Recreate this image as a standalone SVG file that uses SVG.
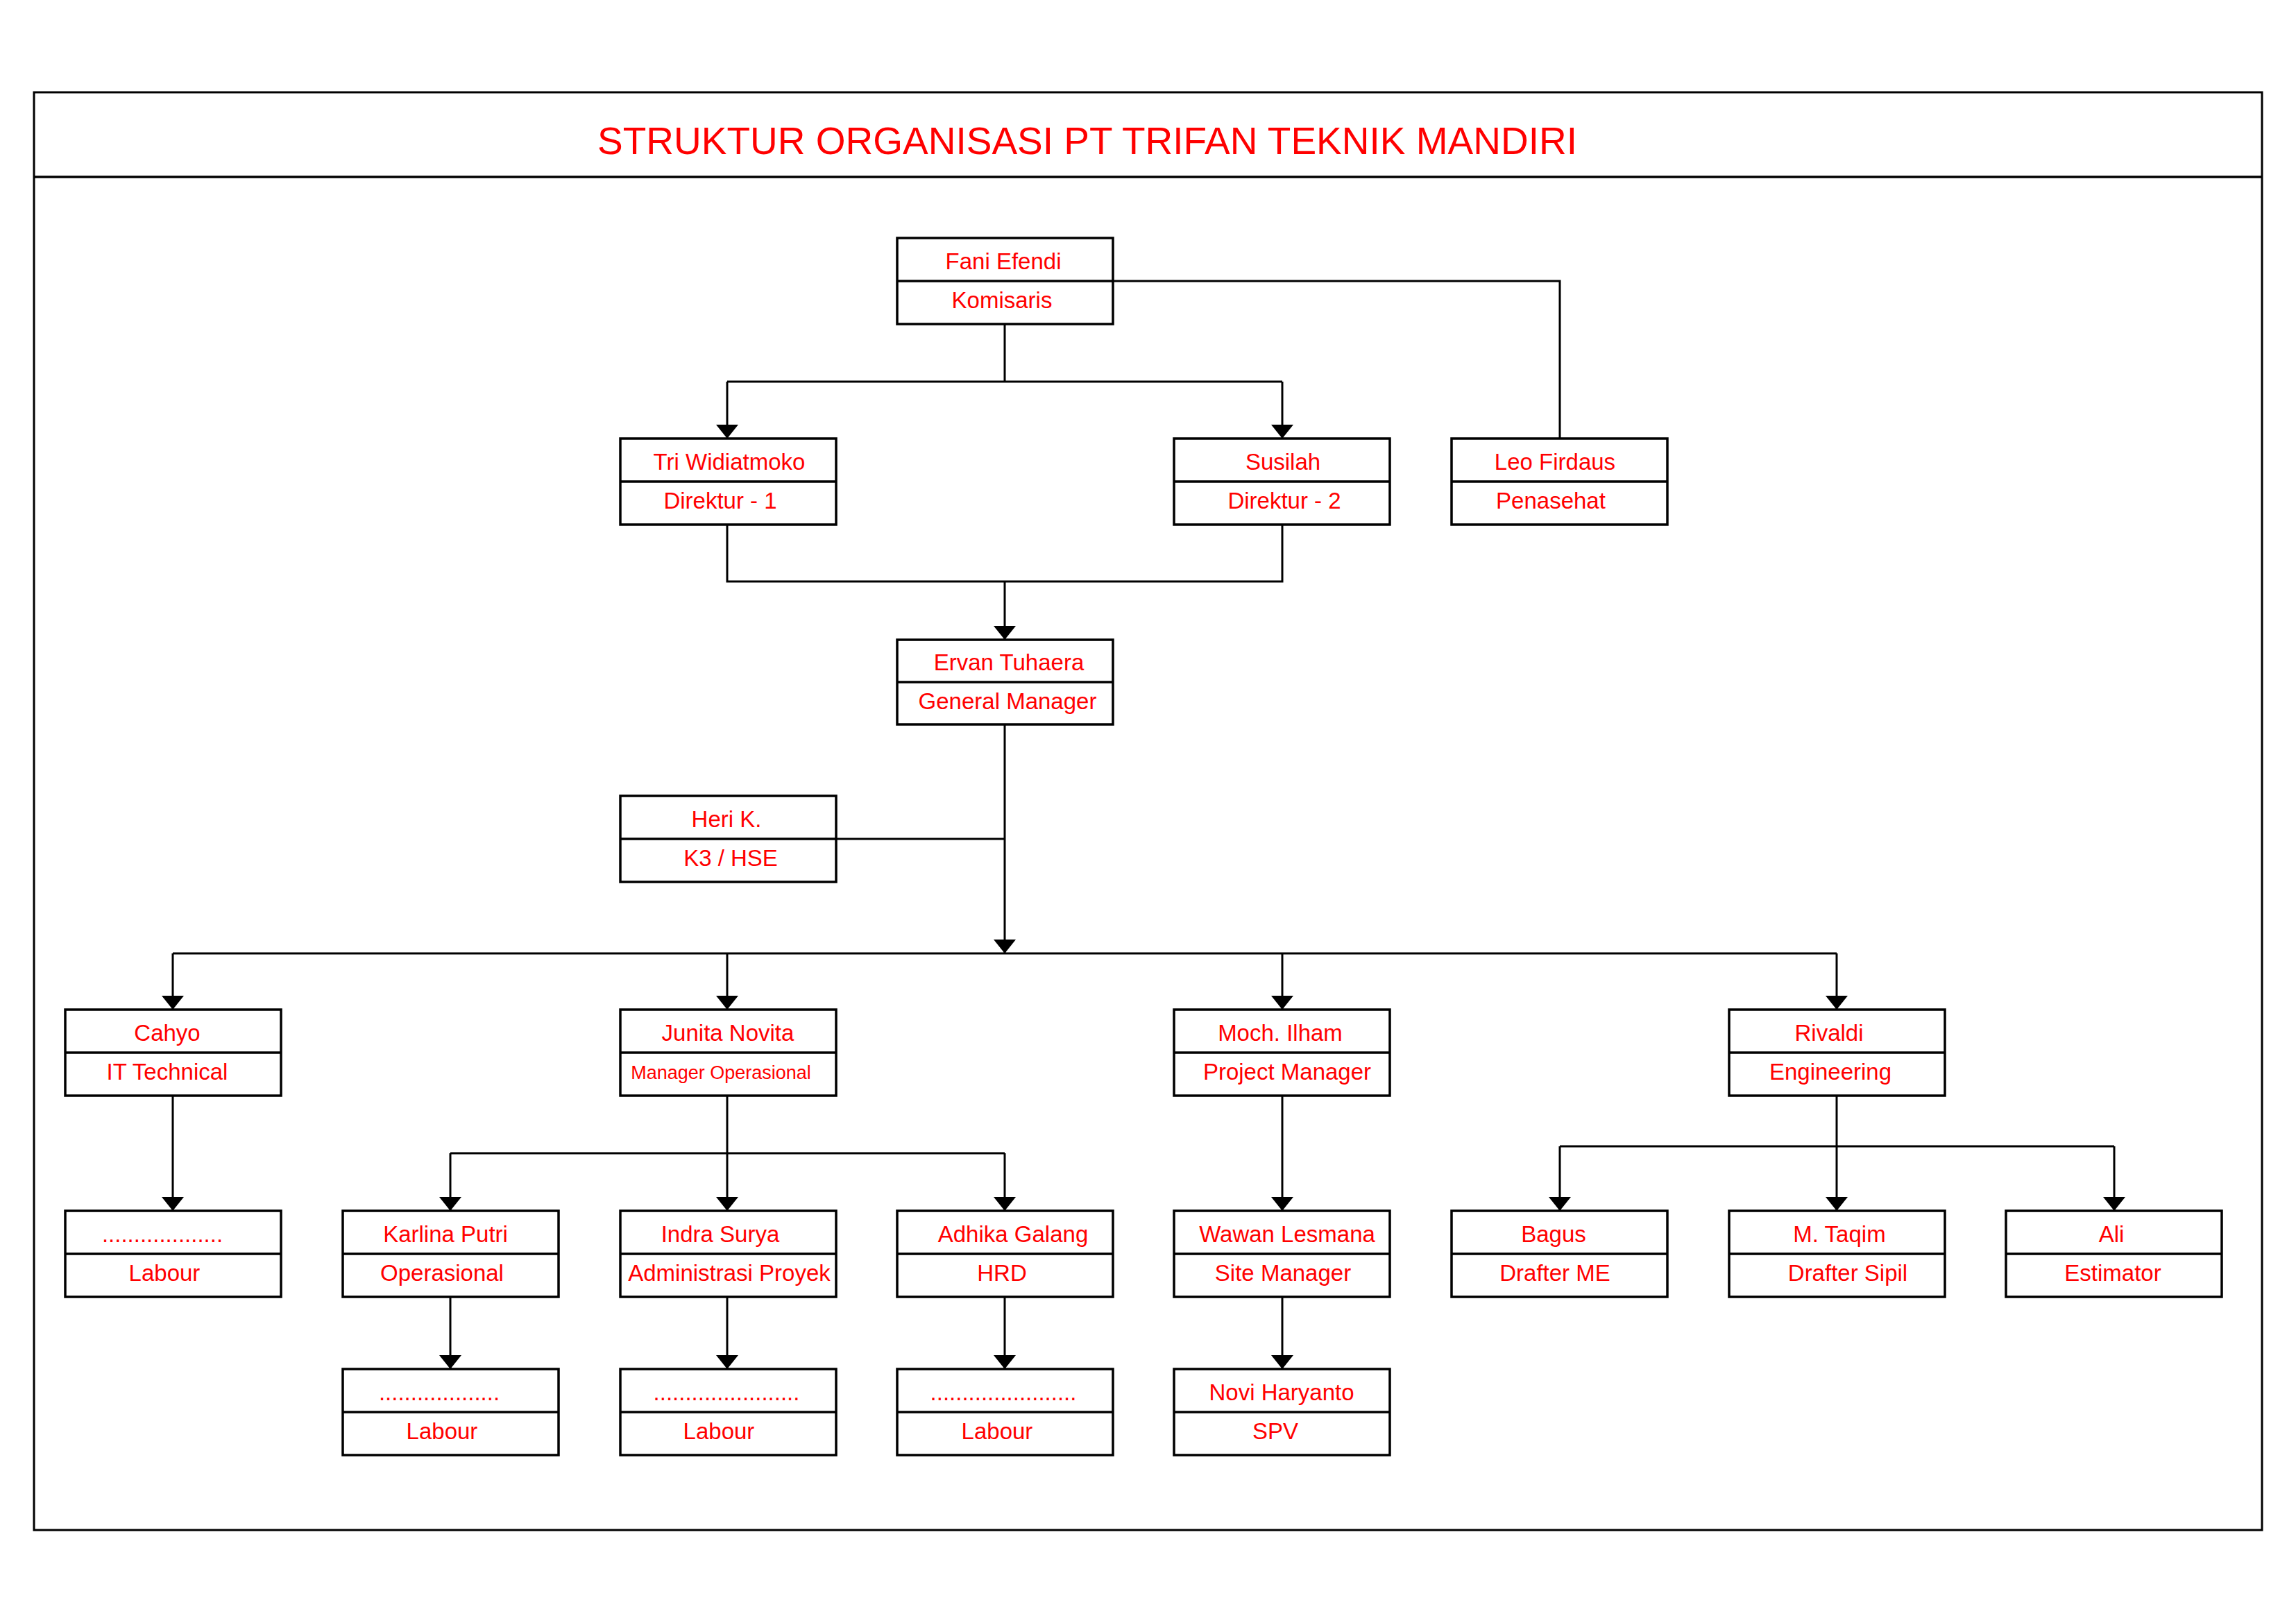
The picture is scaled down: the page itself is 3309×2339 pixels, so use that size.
<svg xmlns="http://www.w3.org/2000/svg" width="3309" height="2339" viewBox="0 0 3309 2339">
<style>
.frame{fill:none;stroke:#000;stroke-width:3}
.box{fill:#fff;stroke:#000;stroke-width:3.5}
.div{stroke:#000;stroke-width:3.5}
.c{fill:none;stroke:#000;stroke-width:3}
.a{marker-end:url(#arr)}
.t{font-family:"Liberation Sans",Arial,sans-serif;font-size:33px;fill:#ff0000;text-anchor:middle}
.s{font-size:27px}
.title{font-family:"Liberation Sans",Arial,sans-serif;font-size:55px;fill:#ff0000;text-anchor:middle}
</style>
<defs>
<marker id="arr" markerUnits="userSpaceOnUse" markerWidth="20" markerHeight="32" viewBox="0 0 20 32" refX="20" refY="16" orient="auto">
<path d="M0,0 L20,16 L0,32 Z" fill="#000"/>
</marker>
</defs>
<rect width="3309" height="2339" fill="#fff"/>
<g id="frame">
<rect class="frame" x="49" y="133" width="3211" height="2072"/>
<line class="div" x1="49" y1="255" x2="3260" y2="255"/>
<text class="title" x="1567" y="222">STRUKTUR ORGANISASI PT TRIFAN TEKNIK MANDIRI</text>
</g>
<g id="connectors">
<path class="c" d="M1448,467 V550 M1048,550 H1848 M1048,756 V838 H1848 V756 M1204,1209 H1448 M249,1374 H2647 M649,1662 H1448 M2248,1652 H3047"/>
<path class="c" d="M1604,405 H2248 V632"/>
<path class="c a" d="M1048,550 V632"/>
<path class="c a" d="M1848,550 V632"/>
<path class="c a" d="M1448,838 V922"/>
<path class="c a" d="M1448,1044 V1374"/>
<path class="c a" d="M249,1374 V1455"/>
<path class="c a" d="M1048,1374 V1455"/>
<path class="c a" d="M1848,1374 V1455"/>
<path class="c a" d="M2647,1374 V1455"/>
<path class="c a" d="M249,1579 V1745"/>
<path class="c a" d="M1048,1579 V1745"/>
<path class="c a" d="M649,1662 V1745"/>
<path class="c a" d="M1448,1662 V1745"/>
<path class="c a" d="M1848,1579 V1745"/>
<path class="c a" d="M2647,1579 V1745"/>
<path class="c a" d="M2248,1652 V1745"/>
<path class="c a" d="M3047,1652 V1745"/>
<path class="c a" d="M649,1869 V1973"/>
<path class="c a" d="M1048,1869 V1973"/>
<path class="c a" d="M1448,1869 V1973"/>
<path class="c a" d="M1848,1869 V1973"/>
</g>
<g id="n-fani"><rect class="box" x="1293" y="343" width="311" height="124"/><line class="div" x1="1293" y1="405" x2="1604" y2="405"/><text class="t" x="1446" y="388">Fani Efendi</text><text class="t" x="1444" y="444">Komisaris</text></g>
<g id="n-tri"><rect class="box" x="894" y="632" width="311" height="124"/><line class="div" x1="894" y1="694" x2="1205" y2="694"/><text class="t" x="1051" y="677">Tri Widiatmoko</text><text class="t" x="1038" y="733">Direktur - 1</text></g>
<g id="n-susilah"><rect class="box" x="1692" y="632" width="311" height="124"/><line class="div" x1="1692" y1="694" x2="2003" y2="694"/><text class="t" x="1849" y="677">Susilah</text><text class="t" x="1851" y="733">Direktur - 2</text></g>
<g id="n-leo"><rect class="box" x="2092" y="632" width="311" height="124"/><line class="div" x1="2092" y1="694" x2="2403" y2="694"/><text class="t" x="2241" y="677">Leo Firdaus</text><text class="t" x="2235" y="733">Penasehat</text></g>
<g id="n-ervan"><rect class="box" x="1293" y="922" width="311" height="122"/><line class="div" x1="1293" y1="983" x2="1604" y2="983"/><text class="t" x="1454" y="966">Ervan Tuhaera</text><text class="t" x="1452" y="1022">General Manager</text></g>
<g id="n-heri"><rect class="box" x="894" y="1147" width="311" height="124"/><line class="div" x1="894" y1="1209" x2="1205" y2="1209"/><text class="t" x="1047" y="1192">Heri K.</text><text class="t" x="1053" y="1248">K3 / HSE</text></g>
<g id="n-cahyo"><rect class="box" x="94" y="1455" width="311" height="124"/><line class="div" x1="94" y1="1517" x2="405" y2="1517"/><text class="t" x="241" y="1500">Cahyo</text><text class="t" x="241" y="1556">IT Technical</text></g>
<g id="n-junita"><rect class="box" x="894" y="1455" width="311" height="124"/><line class="div" x1="894" y1="1517" x2="1205" y2="1517"/><text class="t" x="1049" y="1500">Junita Novita</text><text class="t s" x="1039" y="1555">Manager Operasional</text></g>
<g id="n-moch"><rect class="box" x="1692" y="1455" width="311" height="124"/><line class="div" x1="1692" y1="1517" x2="2003" y2="1517"/><text class="t" x="1845" y="1500">Moch. Ilham</text><text class="t" x="1855" y="1556">Project Manager</text></g>
<g id="n-rivaldi"><rect class="box" x="2492" y="1455" width="311" height="124"/><line class="div" x1="2492" y1="1517" x2="2803" y2="1517"/><text class="t" x="2636" y="1500">Rivaldi</text><text class="t" x="2638" y="1556">Engineering</text></g>
<g id="n-labour1"><rect class="box" x="94" y="1745" width="311" height="124"/><line class="div" x1="94" y1="1807" x2="405" y2="1807"/><text class="t" x="234" y="1790">...................</text><text class="t" x="237" y="1846">Labour</text></g>
<g id="n-karlina"><rect class="box" x="494" y="1745" width="311" height="124"/><line class="div" x1="494" y1="1807" x2="805" y2="1807"/><text class="t" x="642" y="1790">Karlina Putri</text><text class="t" x="637" y="1846">Operasional</text></g>
<g id="n-indra"><rect class="box" x="894" y="1745" width="311" height="124"/><line class="div" x1="894" y1="1807" x2="1205" y2="1807"/><text class="t" x="1038" y="1790">Indra Surya</text><text class="t" x="1051" y="1846">Administrasi Proyek</text></g>
<g id="n-adhika"><rect class="box" x="1293" y="1745" width="311" height="124"/><line class="div" x1="1293" y1="1807" x2="1604" y2="1807"/><text class="t" x="1460" y="1790">Adhika Galang</text><text class="t" x="1444" y="1846">HRD</text></g>
<g id="n-wawan"><rect class="box" x="1692" y="1745" width="311" height="124"/><line class="div" x1="1692" y1="1807" x2="2003" y2="1807"/><text class="t" x="1855" y="1790">Wawan Lesmana</text><text class="t" x="1849" y="1846">Site Manager</text></g>
<g id="n-bagus"><rect class="box" x="2092" y="1745" width="311" height="124"/><line class="div" x1="2092" y1="1807" x2="2403" y2="1807"/><text class="t" x="2239" y="1790">Bagus</text><text class="t" x="2241" y="1846">Drafter ME</text></g>
<g id="n-taqim"><rect class="box" x="2492" y="1745" width="311" height="124"/><line class="div" x1="2492" y1="1807" x2="2803" y2="1807"/><text class="t" x="2651" y="1790">M. Taqim</text><text class="t" x="2663" y="1846">Drafter Sipil</text></g>
<g id="n-ali"><rect class="box" x="2891" y="1745" width="311" height="124"/><line class="div" x1="2891" y1="1807" x2="3202" y2="1807"/><text class="t" x="3043" y="1790">Ali</text><text class="t" x="3045" y="1846">Estimator</text></g>
<g id="n-labour2"><rect class="box" x="494" y="1973" width="311" height="124"/><line class="div" x1="494" y1="2035" x2="805" y2="2035"/><text class="t" x="633" y="2018">...................</text><text class="t" x="637" y="2074">Labour</text></g>
<g id="n-labour3"><rect class="box" x="894" y="1973" width="311" height="124"/><line class="div" x1="894" y1="2035" x2="1205" y2="2035"/><text class="t" x="1047" y="2018">.......................</text><text class="t" x="1036" y="2074">Labour</text></g>
<g id="n-labour4"><rect class="box" x="1293" y="1973" width="311" height="124"/><line class="div" x1="1293" y1="2035" x2="1604" y2="2035"/><text class="t" x="1446" y="2018">.......................</text><text class="t" x="1437" y="2074">Labour</text></g>
<g id="n-novi"><rect class="box" x="1692" y="1973" width="311" height="124"/><line class="div" x1="1692" y1="2035" x2="2003" y2="2035"/><text class="t" x="1847" y="2018">Novi Haryanto</text><text class="t" x="1838" y="2074">SPV</text></g>
</svg>
